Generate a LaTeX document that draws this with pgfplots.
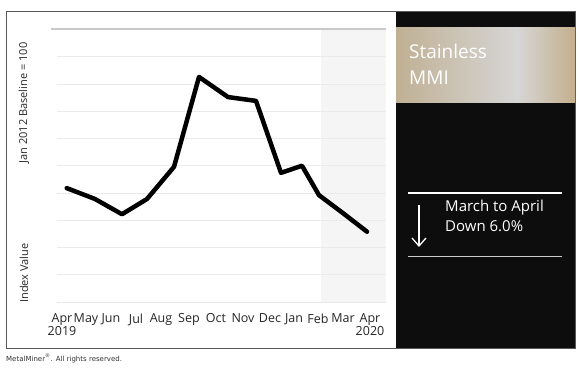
\documentclass[border=0pt]{standalone}
\usepackage{pgfplots}
\pgfplotsset{compat=1.18}
\usepackage{fontspec}
\setmainfont{Open Sans}
\newfontfamily\smallfont{DejaVu Sans}
\definecolor{panel}{HTML}{0D0D0D}
\definecolor{tanL}{HTML}{C0B094}
\definecolor{tanM}{HTML}{D6D6D6}
\definecolor{tanR}{HTML}{C4AF8C}
\definecolor{gridc}{HTML}{EAEAEA}
\definecolor{topc}{HTML}{C9C9C9}
\definecolor{shadec}{HTML}{F5F5F5}
\pgfplotstableread{
x y
66.7 60.9
95 58.9
122 56.1
147 58.9
174 64.8
199 81.3
228 77.6
256 76.9
281 63.7
302 65.0
319 59.6
343 56.3
367 52.9
}\mmidata
\begin{document}
\begin{tikzpicture}[x=1pt,y=1pt]
\useasboundingbox (0,0) rectangle (580,369);
\fill[white] (0,0) rectangle (580,369);
% shaded forecast region
\fill[shadec] (321,67) rectangle (386,339.5);
\begin{axis}[
  at={(57pt,67pt)}, anchor=south west,
  scale only axis, width=329pt, height=272.5pt,
  xmin=57, xmax=386, ymin=40, ymax=90,
  axis line style={draw=none},
  major tick length=0pt,
  ytick={40,45,...,85}, yticklabels={},
  ymajorgrids, grid style={gridc, line width=0.8pt},
  xtick={62,86,111,136,161,189,216,243,270,294,318,343,370},
  xticklabels={{Apr\\2019},May,Jun,Jul,Aug,Sep,Oct,Nov,Dec,Jan,Feb,Mar,{Apr\\2020}},
  xticklabel style={font=\fontsize{12.5}{13.5}\selectfont, align=center, anchor=north, yshift=-8pt, text=black!85},
  clip=false,
]
\addplot[black, line width=4.5pt, line join=round, line cap=round] table[x=x,y=y] {\mmidata};
\end{axis}
\draw[topc, line width=2pt] (51,339.5) -- (386,339.5);
% y labels
\node[rotate=90, font=\fontsize{11}{13}\selectfont, text=black!85] at (24,266) {Jan 2012 Baseline = 100};
\node[rotate=90, font=\fontsize{11}{13}\selectfont, text=black!85] at (24,96) {Index Value};
% frame
\draw[black!65, line width=1pt] (6,21) rectangle (575,357);
% right panel
\fill[panel] (396,21) rectangle (575,357);
\shade[left color=tanL, right color=tanM] (396,266) rectangle (517,341);
\shade[left color=tanM, right color=tanR] (517,266) rectangle (575,341);
\node[anchor=base west, text=white, font=\fontsize{19}{20}\selectfont, inner sep=0] at (409,310) {Stainless};
\node[anchor=base west, text=white, font=\fontsize{19}{20}\selectfont, inner sep=0] at (409,284) {MMI};
\draw[white, line width=2pt] (408,176) -- (562,176);
\draw[black!20, line width=1pt] (408,112) -- (562,112);
\draw[white, line width=1.3pt] (419,164) -- (419,123);
\draw[white, line width=1.3pt, line join=miter] (412,131) -- (419,123) -- (426,131);
\node[anchor=base west, text=white, font=\fontsize{15}{16}\selectfont, inner sep=0] at (445,157) {March to April};
\node[anchor=base west, text=white, font=\fontsize{15}{16}\selectfont, inner sep=0] at (445,137) {Down 6.0\%};
\node[anchor=base west, inner sep=0, text=black!80, font=\smallfont\fontsize{7}{8}\selectfont] at (6,8) {MetalMiner\textsuperscript{®}. All rights reserved.};
\end{tikzpicture}
\end{document}
